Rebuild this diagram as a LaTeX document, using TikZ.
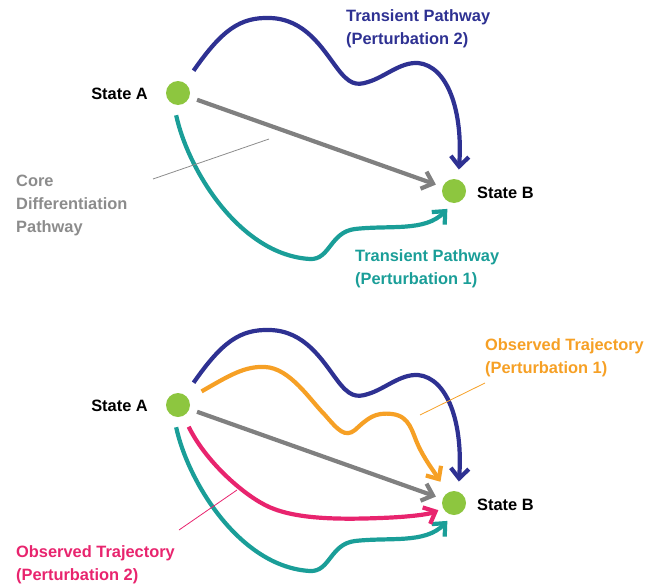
\documentclass[tikz,border=0pt]{standalone}
\usepackage{fontspec}
\setmainfont{Liberation Sans}
\usetikzlibrary{arrows.meta}
\definecolor{pathblue}{HTML}{2E3192}
\definecolor{pathteal}{HTML}{1A9E98}
\definecolor{pathorange}{HTML}{F6A025}
\definecolor{pathpink}{HTML}{E8246E}
\definecolor{coregray}{HTML}{808080}
\definecolor{labelgray}{HTML}{8C8C8C}
\definecolor{stategreen}{HTML}{8DC63F}

\begin{document}
\begin{tikzpicture}[x=1pt,y=-1pt,
    >={Straight Barb[length=10pt,width=18pt]},
    dot/.style={circle,fill=stategreen,minimum size=24pt,inner sep=0pt},
    lbl/.style={font=\bfseries\fontsize{16.4}{23}\selectfont,inner sep=0pt,align=left},
    route/.style={line width=4.2pt,->},
    leader/.style={line width=0.8pt}]
    \useasboundingbox (0,0) rectangle (655,586);
    % upper panel
    \node[dot] (A1) at (178,93) {};
    \node[dot] (B1) at (454,191) {};
    \node[lbl,anchor=east] (la1) at (148,94) {State A};
    \node[lbl,anchor=west] (lb1) at (477,193) {State B};
    \node[lbl,anchor=north west,text=pathblue] (tp2) at (346,9) {Transient Pathway\\(Perturbation 2)};
    \node[lbl,anchor=north west,text=pathteal] (tp1) at (355,249) {Transient Pathway\\(Perturbation 1)};
    \node[lbl,anchor=north west,text=labelgray] (core) at (16,175) {Core\\Differentiation\\Pathway};
    \draw[route,pathblue,shorten <=15pt,shorten >=10pt] (A1) .. controls (222,30) and (240,17) .. (270,18) .. controls (305,19) and (322,48) .. (337,68) .. controls (349,84) and (356,86) .. (368,82) .. controls (385,77) and (400,62) .. (418,63) .. controls (448,66) and (463,112) .. (B1.70);
    \draw[route,pathteal,shorten <=11pt,shorten >=8pt] (A1.250) .. controls (188,170) and (240,255) .. (310,259) .. controls (330,260) and (330,232) .. (355,229) .. controls (390,225) and (425,232) .. (B1.265);
    \draw[route,coregray,shorten <=8pt,shorten >=7pt] (A1) -- (B1);
    \coordinate (c1) at (153,179);
    \coordinate (c2) at (269,139);
    \draw[leader,labelgray] (c1) -- (c2);
    % lower panel
    \begin{scope}[yshift=-312pt]
        \node[dot] (A2) at (178,93) {};
        \node[dot] (B2) at (454,191) {};
        \node[lbl,anchor=east] (la2) at (148,94) {State A};
        \node[lbl,anchor=west] (lb2) at (477,193) {State B};
        \node[lbl,anchor=north west,text=pathorange] (ot1) at (485,26) {Observed Trajectory\\(Perturbation 1)};
        \node[lbl,anchor=north west,text=pathpink] (ot2) at (16,233) {Observed Trajectory\\(Perturbation 2)};
        \draw[route,pathblue,shorten <=15pt,shorten >=10pt] (A2) .. controls (222,30) and (240,17) .. (270,18) .. controls (305,19) and (322,48) .. (337,68) .. controls (349,84) and (356,86) .. (368,82) .. controls (385,77) and (400,62) .. (418,63) .. controls (448,66) and (463,112) .. (B2.70);
        \draw[route,pathorange,shorten <=15pt,shorten >=13pt] (A2) .. controls (230,63) and (245,54) .. (265,55) .. controls (290,56) and (310,88) .. (325,103) .. controls (338,118) and (345,126) .. (355,118) .. controls (368,106) and (375,100) .. (392,102) .. controls (410,104) and (412,120) .. (418,133) .. controls (425,148) and (433,158) .. (B2);
        \draw[route,pathteal,shorten <=11pt,shorten >=8pt] (A2.250) .. controls (188,170) and (240,255) .. (310,259) .. controls (330,260) and (330,232) .. (355,229) .. controls (390,225) and (425,232) .. (B2.265);
        \draw[route,pathpink,shorten <=12pt,shorten >=5pt] (A2) .. controls (205,148) and (240,180) .. (265,193) .. controls (290,206) and (330,208) .. (380,206) .. controls (410,205) and (430,202) .. (B2);
        \draw[route,coregray,shorten <=8pt,shorten >=7pt] (A2) -- (B2);
        \coordinate (c3) at (420,103);
        \coordinate (c4) at (485,71);
        \draw[leader,pathorange] (c3) -- (c4);
        \coordinate (c5) at (179,218);
        \coordinate (c6) at (237,178);
        \draw[leader,pathpink] (c5) -- (c6);
    \end{scope}
\end{tikzpicture}
\end{document}
